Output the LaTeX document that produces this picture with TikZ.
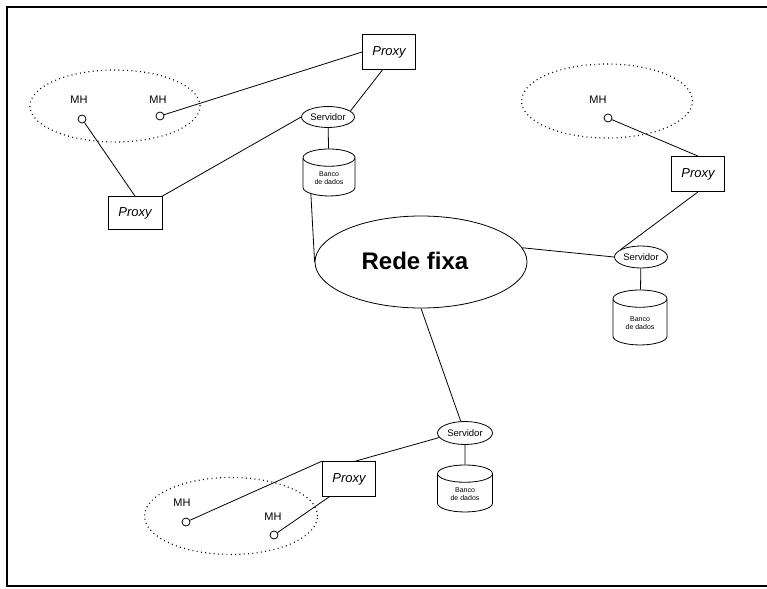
\documentclass[tikz,border=0pt]{standalone}
\usepackage{fontspec}
\setmainfont{Liberation Sans}
\usetikzlibrary{shapes.geometric}
\begin{document}
\begin{tikzpicture}[x=1pt,y=-1pt,line width=0.8pt,
  proxybox/.style={draw,rectangle,inner sep=0pt,minimum width=53pt,minimum height=35pt,font=\fontsize{13}{15}\selectfont\itshape},
  serv/.style={draw,ellipse,inner sep=0pt,minimum width=53pt,minimum height=21pt,font=\fontsize{9.5}{11}\selectfont},
  db/.style={draw,cylinder,shape border rotate=90,aspect=0.6,inner sep=0pt,minimum width=54pt,minimum height=48pt,font=\fontsize{7}{8}\selectfont,align=center},
  mh/.style={draw,circle,inner sep=0pt,minimum size=8pt},
  mhlabel/.style={inner sep=0pt,font=\fontsize{11}{13}\selectfont},
  cell/.style={draw,ellipse,inner sep=0pt,dash pattern=on 0.9pt off 3.4pt,line width=1.2pt},
  rede/.style={draw,ellipse,inner sep=0pt,minimum width=212pt,minimum height=92pt},
  redetext/.style={inner sep=0pt,font=\fontsize{24}{28}\selectfont\bfseries},
  frame/.style={line width=1.2pt}]
\useasboundingbox (0,0) rectangle (767,588);
% frame
\draw[frame] (767,7) -- (7,7) -- (7,586) -- (767,586);

% central network
\node[rede] (rede) at (421,262) {};
\node[redetext] (redeT) at (415,261) {Rede fixa};

% top-left cluster
\node[cell,minimum width=170pt,minimum height=72pt] (cellA) at (115,106) {};
\node[mhlabel] (lA1) at (79,100) {MH};
\node[mh] (mA1) at (82,119) {};
\node[mhlabel] (lA2) at (158,100) {MH};
\node[mh] (mA2) at (160,116) {};
\node[proxybox] (pxT) at (389,52) {Proxy};
\node[proxybox,minimum width=54pt,minimum height=33pt] (pxL) at (135,213) {Proxy};
\node[serv] (svT) at (328,117) {Servidor};
\node[db,minimum height=47pt,minimum width=52pt] (dbT) at (329,177) {\\Banco\\de dados};

\draw (mA2) -- (pxT.west);
\draw (mA1) -- (pxL.north);
\draw (pxL.north east) -- (svT.west);
\draw (pxT.-110) -- (svT.15);
\draw (svT) -- (dbT);
\draw (dbT.-137) -- (rede.west);

% right cluster
\node[cell,minimum width=171pt,minimum height=74pt] (cellB) at (607,101) {};
\node[mhlabel] (lB1) at (598,100) {MH};
\node[mh] (mB1) at (608,118) {};
\node[proxybox] (pxR) at (698,174) {Proxy};
\node[serv,minimum height=22pt] (svR) at (641,257) {Servidor};
\node[db,minimum height=55pt] (dbR) at (640,322) {\\Banco\\de dados};

\draw (mB1) -- (pxR.north);
\draw (pxR.south) -- (svR.160);
\draw (rede.8) -- (svR.west);
\draw (svR) -- (dbR);

% bottom cluster
\node[serv,minimum width=55pt,minimum height=23pt] (svB) at (465,433) {Servidor};
\node[db,minimum width=55pt,minimum height=47pt] (dbB) at (465,493) {\\Banco\\de dados};
\node[proxybox] (pxB) at (349,479) {Proxy};
\node[cell,minimum width=173pt,minimum height=77pt] (cellC) at (231,516) {};
\node[mhlabel] (lC1) at (182,503) {MH};
\node[mh] (mC1) at (186,522) {};
\node[mhlabel] (lC2) at (273,517) {MH};
\node[mh] (mC2) at (274,535) {};

\draw (rede.south) -- (svB.110);
\draw (svB) -- (dbB);
\draw (pxB.70) -- (svB.190);
\draw (mC1) -- (pxB.north west);
\draw (mC2) -- (pxB.-138);
\end{tikzpicture}
\end{document}
